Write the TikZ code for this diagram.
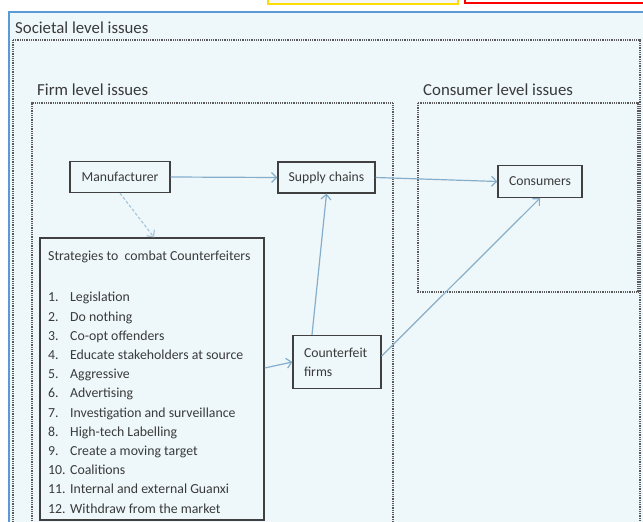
\documentclass[tikz,border=0pt]{standalone}
\usepackage{fontspec}
\setmainfont{Carlito}
\usetikzlibrary{arrows.meta}
\definecolor{bgblue}{HTML}{EEF8FB}
\definecolor{frameblue}{HTML}{5B9BD5}
\definecolor{arrowc}{HTML}{86AECB}
\definecolor{txt}{HTML}{3A3A3A}
\definecolor{dotc}{HTML}{5A5A5A}
\definecolor{boxc}{HTML}{404040}
\tikzset{
  dotbox/.style={draw=dotc, line width=1.5pt, dash pattern=on 1pt off 0.8pt},
  flowbox/.style={draw=boxc, line width=1.3pt, rectangle, inner sep=0pt, text=txt,
    font=\fontsize{13.7}{15}\selectfont},
  heading/.style={anchor=base west, inner sep=0pt, text=txt, font=\fontsize{16.8}{18}\selectfont},
  flow/.style={draw=arrowc, line width=1.2pt, -{Straight Barb[length=5pt,width=10pt]}},
}
\begin{document}
\begin{tikzpicture}[x=1pt,y=-1pt]
\useasboundingbox (0,0) rectangle (643,522);
% top partial boxes
\fill[white] (0,0) rectangle (643,522);
\draw[draw=frameblue, line width=2pt, fill=bgblue] (9,12) rectangle (650,530);
\draw[draw=yellow!80!orange, line width=1.6pt, fill=black!4] (268,-10) rectangle (458,4);
\draw[draw=red, line width=1.6pt, fill=white] (465,-10) rectangle (650,3);
% level frames
\node[heading] (soc) at (15,33) {Societal level issues};
\draw[dotbox] (13,40) -- (640,40) -- (640,530);
\draw[dotbox] (13,40) -- (13,530);
\node[heading] (firm) at (37,95) {Firm level issues};
\draw[dotbox] (32,530) -- (32,103) -- (393,103) -- (393,530);
\node[heading] (cons) at (423,95) {Consumer level issues};
\draw[dotbox] (418,103) rectangle (638,292);
% nodes
\node[flowbox, minimum width=100pt, minimum height=31pt] (man) at (120,177) {Manufacturer};
\node[flowbox, minimum width=97pt, minimum height=31pt] (sup) at (326.5,177.5) {Supply chains};
\node[flowbox, minimum width=84pt, minimum height=32pt] (con) at (540,181.5) {Consumers};
\node[flowbox, minimum width=88pt, minimum height=53pt, text width=66pt, align=left] (cf) at (337,362)
  {Counterfeit\\[4pt]firms};
\node[flowbox, minimum width=224pt, minimum height=282pt] (strat) at (152,379) {};
\node[anchor=north west, inner sep=0pt, text=txt, align=left,
  font=\fontsize{13.8}{19.2}\selectfont] (stext) at (48,251)
  {Strategies to\ \ combat Counterfeiters\\[22pt]
   \makebox[22pt][l]{1.}Legislation\\
   \makebox[22pt][l]{2.}Do nothing\\
   \makebox[22pt][l]{3.}Co-opt offenders\\
   \makebox[22pt][l]{4.}Educate stakeholders at source\\
   \makebox[22pt][l]{5.}Aggressive\\
   \makebox[22pt][l]{6.}Advertising\\
   \makebox[22pt][l]{7.}Investigation and surveillance\\
   \makebox[22pt][l]{8.}High-tech Labelling\\
   \makebox[22pt][l]{9.}Create a moving target\\
   \makebox[22pt][l]{10.}Coalitions\\
   \makebox[22pt][l]{11.}Internal and external Guanxi\\
   \makebox[22pt][l]{12.}Withdraw from the market};
% connectors
\draw[flow] (man.east) -- (sup.west);
\draw[flow] (sup.east) -- (con.west);
\draw[flow, dash pattern=on 3pt off 2pt, draw=arrowc!70] (man.south) -- ([xshift=2pt]strat.north);
\draw[flow] ([yshift=11pt]strat.east) -- (cf.west);
\draw[flow] ([xshift=-25pt]cf.north) -- (sup.south);
\draw[flow] ([yshift=6pt]cf.east) -- (con.south);
\end{tikzpicture}
\end{document}
